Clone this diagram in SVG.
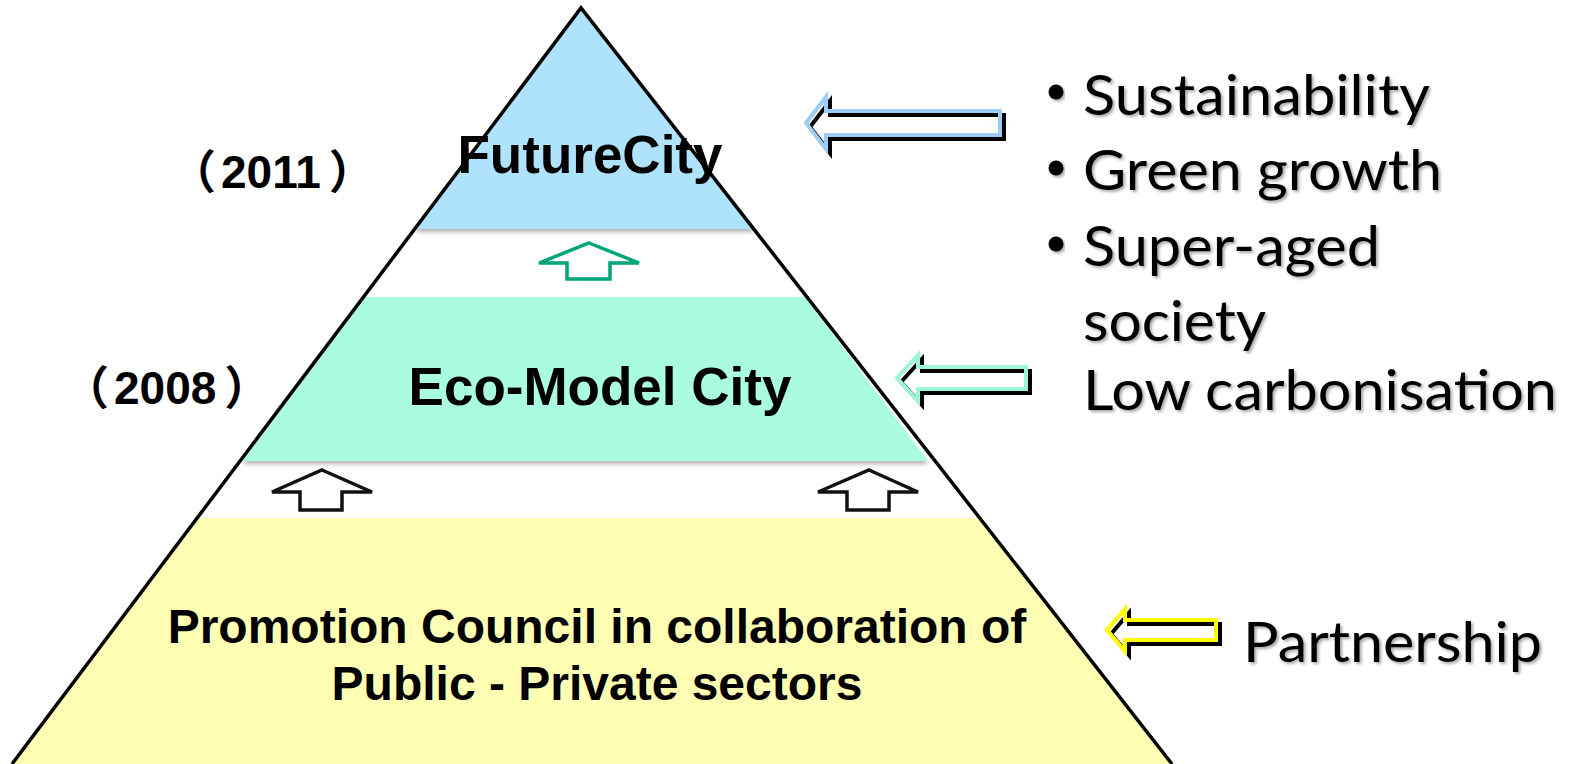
<svg xmlns="http://www.w3.org/2000/svg" width="1569" height="764" viewBox="0 0 1569 764">
<defs>
<filter id="bandShadow" x="-5%" y="-5%" width="110%" height="115%">
<feDropShadow dx="0" dy="3" stdDeviation="2" flood-color="#000" flood-opacity="0.3"/>
</filter>
<filter id="txtShadow" x="-5%" y="-10%" width="110%" height="130%">
<feDropShadow dx="2" dy="2" stdDeviation="1.5" flood-color="#000" flood-opacity="0.35"/>
</filter>
</defs>
<style>
.lbl{font-family:"Liberation Sans",Arial,sans-serif;font-weight:bold;fill:#000;text-anchor:middle}
.year{font-family:"Liberation Sans","Noto Sans CJK JP",sans-serif;font-weight:bold;font-size:46px;fill:#000}
.side{font-family:Lato,"Open Sans",sans-serif;font-size:56px;fill:#000;filter:url(#txtShadow)}
.la{fill:none;stroke-width:4;stroke-linejoin:miter}
.sh{stroke:#000}
.ua{fill:none;stroke-width:3.5;stroke-linejoin:miter}
</style>
<rect width="1569" height="764" fill="#fff"/>

<g id="band-future">
<polygon points="581,8 415,229 755,229" fill="#AFE3FB" filter="url(#bandShadow)"/>
<text class="lbl" x="590" y="173" font-size="53">FutureCity</text>
</g>
<g id="band-eco">
<polygon points="365,297 805,297 928,461 243,461" fill="#AAFCE1" filter="url(#bandShadow)"/>
<text class="lbl" x="600" y="405" font-size="53">Eco-Model City</text>
</g>
<g id="band-council">
<polygon points="199,518 978,518 1171,764 12,764" fill="#FFFFB4" filter="url(#bandShadow)"/>
<text class="lbl" x="597" y="643" font-size="48">Promotion Council in collaboration of</text>
<text class="lbl" x="597" y="700" font-size="48">Public - Private sectors</text>
</g>
<g id="pyramid-outline">
<path d="M12,764 L581,8 L1172,764" fill="none" stroke="#000" stroke-width="3.5" stroke-linejoin="miter"/>
</g>

<g id="year-2011"><text class="year" x="170" y="188">（<tspan dx="5">2011</tspan><tspan dx="8">）</tspan></text></g>
<g id="year-2008"><text class="year" x="63" y="404">（<tspan dx="5">2008</tspan><tspan dx="8">）</tspan></text></g>

<g id="connectors">
<path class="ua" stroke="#00A57A" d="M589,243 L639,263 L610,263 L610,279 L567,279 L567,263 L539,263 Z"/>
<path class="ua" stroke="#111" d="M322,470 L372,492 L342,492 L342,510 L300,510 L300,492 L272,492 Z"/>
<path class="ua" stroke="#111" d="M869,470 L918,492 L889,492 L889,510 L847,510 L847,492 L818,492 Z"/>

<path class="la sh" transform="translate(4,4)" d="M806,123 L826,97 L826,111 L1000,111 L1000,135 L826,135 L826,149 Z"/>
<path class="la" stroke="#9CCDF6" d="M806,123 L826,97 L826,111 L1000,111 L1000,135 L826,135 L826,149 Z"/>

<path class="la sh" transform="translate(4,4)" d="M897,378 L918,355 L918,367 L1026,367 L1026,389 L918,389 L918,401 Z"/>
<path class="la" stroke="#9DF7D6" d="M897,378 L918,355 L918,367 L1026,367 L1026,389 L918,389 L918,401 Z"/>

<path class="la sh" transform="translate(4,4)" d="M1107,630 L1125,609 L1125,620 L1216,620 L1216,640 L1125,640 L1125,651 Z"/>
<path class="la" stroke="#FFFF00" d="M1107,630 L1125,609 L1125,620 L1216,620 L1216,640 L1125,640 L1125,651 Z"/>
</g>

<g id="drivers">
<circle cx="1056" cy="92" r="7.5" fill="#000" filter="url(#txtShadow)"/>
<circle cx="1056" cy="168" r="7.5" fill="#000" filter="url(#txtShadow)"/>
<circle cx="1056" cy="244" r="7.5" fill="#000" filter="url(#txtShadow)"/>
<text class="side" x="1083" y="115" textLength="347" lengthAdjust="spacingAndGlyphs">Sustainability</text>
<text class="side" x="1083" y="190" textLength="359" lengthAdjust="spacingAndGlyphs">Green growth</text>
<text class="side" x="1083" y="266" textLength="297" lengthAdjust="spacingAndGlyphs">Super-aged</text>
<text class="side" x="1083" y="341" textLength="183" lengthAdjust="spacingAndGlyphs">society</text>
<text class="side" x="1083" y="410" textLength="474" lengthAdjust="spacingAndGlyphs">Low carbonisation</text>
<text class="side" x="1243" y="662" textLength="299" lengthAdjust="spacingAndGlyphs">Partnership</text>
</g>
</svg>
